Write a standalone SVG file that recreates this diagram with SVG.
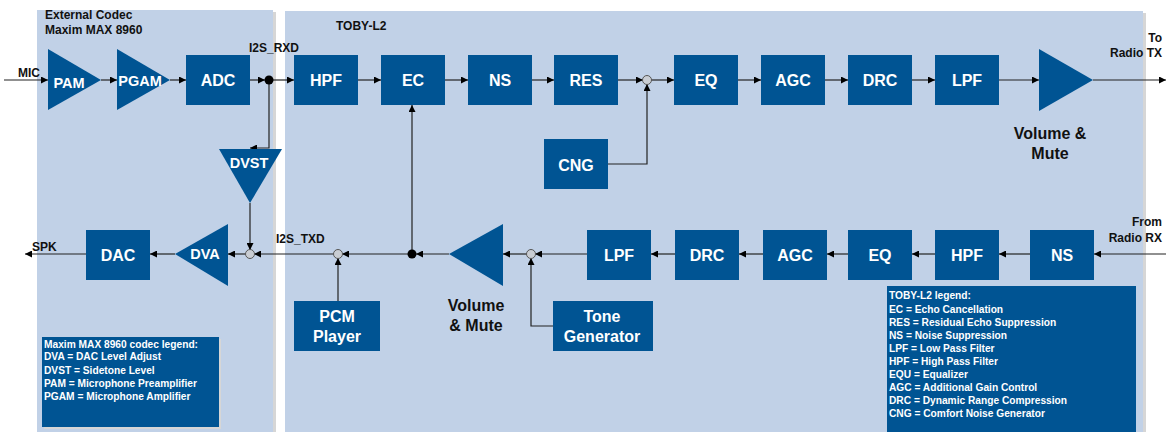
<svg xmlns="http://www.w3.org/2000/svg" width="1166" height="432" viewBox="0 0 1166 432">
<defs>
<marker id="ah" viewBox="0 0 10 10" refX="10" refY="5" markerWidth="7" markerHeight="7" markerUnits="userSpaceOnUse" orient="auto">
<path d="M0,0 L10,5 L0,10 z" fill="#000"/>
</marker>
</defs>
<style>
.panel{fill:#c1d1e7}
.shadow{fill:#d6d6d6}
.box{fill:#005493}
.bt{font-family:"Liberation Sans",Arial,sans-serif;font-weight:bold;font-size:16px;fill:#fff;text-anchor:middle}
.tt{font-family:"Liberation Sans",Arial,sans-serif;font-weight:bold;font-size:14.5px;fill:#fff;text-anchor:middle}
.lbl{font-family:"Liberation Sans",Arial,sans-serif;font-weight:bold;font-size:12px;fill:#111}
.big{font-family:"Liberation Sans",Arial,sans-serif;font-weight:bold;font-size:16px;fill:#111;text-anchor:middle}
.leg{font-family:"Liberation Sans",Arial,sans-serif;font-weight:bold;font-size:10.2px;fill:#fff}
.ln{stroke:#222;stroke-width:1.2;fill:none}
.arr{stroke:#222;stroke-width:1.2;fill:none;marker-end:url(#ah)}
.sum{fill:#c9cdd3;stroke:#555;stroke-width:1}
.dot{fill:#000}
</style>
<rect width="1166" height="432" fill="#fff"/>
<!-- panels -->
<rect class="shadow" x="39" y="12" width="237" height="420"/>
<rect class="panel" x="37" y="10" width="236" height="422"/>
<rect class="shadow" x="287" y="13" width="859" height="419"/>
<rect class="panel" x="285" y="11" width="858" height="421"/>
<text class="lbl" x="45" y="19">External Codec</text>
<text class="lbl" x="45" y="34">Maxim MAX 8960</text>
<text class="lbl" x="336" y="30">TOBY-L2</text>

<g id="connectors">
<line class="arr" x1="4" y1="80" x2="48" y2="80"/>
<line class="arr" x1="101" y1="80" x2="117" y2="80"/>
<line class="arr" x1="170" y1="80" x2="186" y2="80"/>
<line class="arr" x1="250" y1="80" x2="265" y2="80"/>
<line class="arr" x1="269" y1="80" x2="294" y2="80"/>
<polyline class="arr" points="269,80 269,148 250,148"/>
<line class="arr" x1="358" y1="80" x2="381" y2="80"/>
<line class="arr" x1="445" y1="80" x2="468" y2="80"/>
<line class="arr" x1="532" y1="80" x2="554" y2="80"/>
<line class="arr" x1="618" y1="80" x2="643" y2="80"/>
<polyline class="arr" points="608,164 647,164 647,84"/>
<line class="arr" x1="651" y1="80" x2="674" y2="80"/>
<line class="arr" x1="738" y1="80" x2="761" y2="80"/>
<line class="arr" x1="825" y1="80" x2="848" y2="80"/>
<line class="arr" x1="912" y1="80" x2="935" y2="80"/>
<line class="arr" x1="999" y1="80" x2="1039" y2="80"/>
<line class="arr" x1="1093" y1="80" x2="1166" y2="80"/>
<!-- bottom row -->
<line class="arr" x1="1166" y1="254" x2="1094" y2="254"/>
<line class="arr" x1="1030" y1="254" x2="999" y2="254"/>
<line class="arr" x1="935" y1="254" x2="912" y2="254"/>
<line class="arr" x1="848" y1="254" x2="827" y2="254"/>
<line class="arr" x1="763" y1="254" x2="739" y2="254"/>
<line class="arr" x1="675" y1="254" x2="651" y2="254"/>
<line class="arr" x1="587" y1="254" x2="535" y2="254"/>
<polyline class="arr" points="553,326 531,326 531,258"/>
<line class="arr" x1="527" y1="254" x2="503" y2="254"/>
<line class="arr" x1="449" y1="254" x2="416" y2="254"/>
<line class="arr" x1="412" y1="254" x2="412" y2="105"/>
<line class="arr" x1="412" y1="254" x2="342" y2="254"/>
<line class="arr" x1="338" y1="301" x2="338" y2="258"/>
<line class="arr" x1="334" y1="254" x2="254" y2="254"/>
<line class="arr" x1="250" y1="203" x2="250" y2="250"/>
<line class="arr" x1="246" y1="254" x2="228" y2="254"/>
<line class="arr" x1="175" y1="254" x2="150" y2="254"/>
<line class="arr" x1="86" y1="254" x2="25" y2="254"/>
<circle class="dot" cx="269" cy="80" r="4.5"/>
<circle class="dot" cx="412" cy="254" r="4.5"/>
<circle class="sum" cx="647" cy="80" r="4.5"/>
<circle class="sum" cx="531" cy="254" r="4.5"/>
<circle class="sum" cx="338" cy="254" r="4.5"/>
<circle class="sum" cx="250" cy="254" r="4.5"/>
</g>

<text class="lbl" x="18" y="77">MIC</text>
<text class="lbl" x="249" y="52">I2S_RXD</text>
<text class="lbl" x="32" y="251">SPK</text>
<text class="lbl" x="276" y="243">I2S_TXD</text>
<text class="lbl" x="1162" y="42" text-anchor="end">To</text>
<text class="lbl" x="1162" y="57" text-anchor="end">Radio TX</text>
<text class="lbl" x="1162" y="226" text-anchor="end">From</text>
<text class="lbl" x="1162" y="242" text-anchor="end">Radio RX</text>

<g id="PAM"><polygon class="box" points="48,49 101,80 48,110"/><text class="tt" x="69" y="88">PAM</text></g>
<g id="PGAM"><polygon class="box" points="117,49 170,80 117,110"/><text class="tt" x="140" y="86">PGAM</text></g>
<g id="ADC"><rect class="box" x="186" y="55" width="64" height="50"/><text class="bt" x="218" y="86">ADC</text></g>
<g id="DVST"><polygon class="box" points="219,149 282,149 250,203"/><text class="tt" x="249" y="168">DVST</text></g>
<g id="HPF1"><rect class="box" x="294" y="55" width="64" height="50"/><text class="bt" x="326" y="86">HPF</text></g>
<g id="EC"><rect class="box" x="381" y="55" width="64" height="50"/><text class="bt" x="413" y="86">EC</text></g>
<g id="NS1"><rect class="box" x="468" y="55" width="64" height="50"/><text class="bt" x="500" y="86">NS</text></g>
<g id="RES"><rect class="box" x="554" y="55" width="64" height="50"/><text class="bt" x="586" y="86">RES</text></g>
<g id="CNG"><rect class="box" x="544" y="139" width="64" height="50"/><text class="bt" x="576" y="171">CNG</text></g>
<g id="EQ1"><rect class="box" x="674" y="55" width="64" height="50"/><text class="bt" x="706" y="86">EQ</text></g>
<g id="AGC1"><rect class="box" x="761" y="55" width="64" height="50"/><text class="bt" x="793" y="86">AGC</text></g>
<g id="DRC1"><rect class="box" x="848" y="55" width="64" height="50"/><text class="bt" x="880" y="86">DRC</text></g>
<g id="LPF1"><rect class="box" x="935" y="55" width="64" height="50"/><text class="bt" x="967" y="86">LPF</text></g>
<g id="VOL1"><polygon class="box" points="1039,49 1093,80 1039,111"/><text class="big" x="1050" y="139">Volume &amp;</text><text class="big" x="1050" y="159">Mute</text></g>

<g id="NS2"><rect class="box" x="1030" y="230" width="64" height="50"/><text class="bt" x="1062" y="261">NS</text></g>
<g id="HPF2"><rect class="box" x="935" y="230" width="64" height="50"/><text class="bt" x="967" y="261">HPF</text></g>
<g id="EQ2"><rect class="box" x="848" y="230" width="64" height="50"/><text class="bt" x="880" y="261">EQ</text></g>
<g id="AGC2"><rect class="box" x="763" y="230" width="64" height="50"/><text class="bt" x="795" y="261">AGC</text></g>
<g id="DRC2"><rect class="box" x="675" y="230" width="64" height="50"/><text class="bt" x="707" y="261">DRC</text></g>
<g id="LPF2"><rect class="box" x="587" y="230" width="64" height="50"/><text class="bt" x="619" y="261">LPF</text></g>
<g id="TONE"><rect class="box" x="553" y="301" width="100" height="50"/><text class="bt" x="602" y="322">Tone</text><text class="bt" x="602" y="342">Generator</text></g>
<g id="VOL2"><polygon class="box" points="503,224 503,286 449,254"/><text class="big" x="476" y="311">Volume</text><text class="big" x="476" y="331">&amp; Mute</text></g>
<g id="PCM"><rect class="box" x="294" y="301" width="86" height="50"/><text class="bt" x="337" y="322">PCM</text><text class="bt" x="337" y="342">Player</text></g>
<g id="DVA"><polygon class="box" points="228,224 228,286 175,254"/><text class="tt" x="205" y="259">DVA</text></g>
<g id="DAC"><rect class="box" x="86" y="230" width="64" height="50"/><text class="bt" x="118" y="261">DAC</text></g>

<g id="legend-codec">
<rect class="shadow" x="44" y="339" width="177" height="90"/>
<rect class="box" x="42" y="337" width="177" height="90"/>
<text class="leg" x="44" y="348">Maxim MAX 8960 codec legend:</text>
<text class="leg" x="44" y="360">DVA = DAC Level Adjust</text>
<text class="leg" x="44" y="374">DVST = Sidetone Level</text>
<text class="leg" x="44" y="387">PAM = Microphone Preamplifier</text>
<text class="leg" x="44" y="400">PGAM = Microphone Amplifier</text>
</g>
<g id="legend-toby">
<rect class="box" x="887" y="286" width="249" height="146"/>
<text class="leg" x="889" y="299">TOBY-L2 legend:</text>
<text class="leg" x="889" y="313">EC = Echo Cancellation</text>
<text class="leg" x="889" y="326">RES = Residual Echo Suppression</text>
<text class="leg" x="889" y="339">NS = Noise Suppression</text>
<text class="leg" x="889" y="352">LPF = Low Pass Filter</text>
<text class="leg" x="889" y="365">HPF = High Pass Filter</text>
<text class="leg" x="889" y="378">EQU = Equalizer</text>
<text class="leg" x="889" y="391">AGC = Additional Gain Control</text>
<text class="leg" x="889" y="404">DRC = Dynamic Range Compression</text>
<text class="leg" x="889" y="417">CNG = Comfort Noise Generator</text>
</g>
</svg>
